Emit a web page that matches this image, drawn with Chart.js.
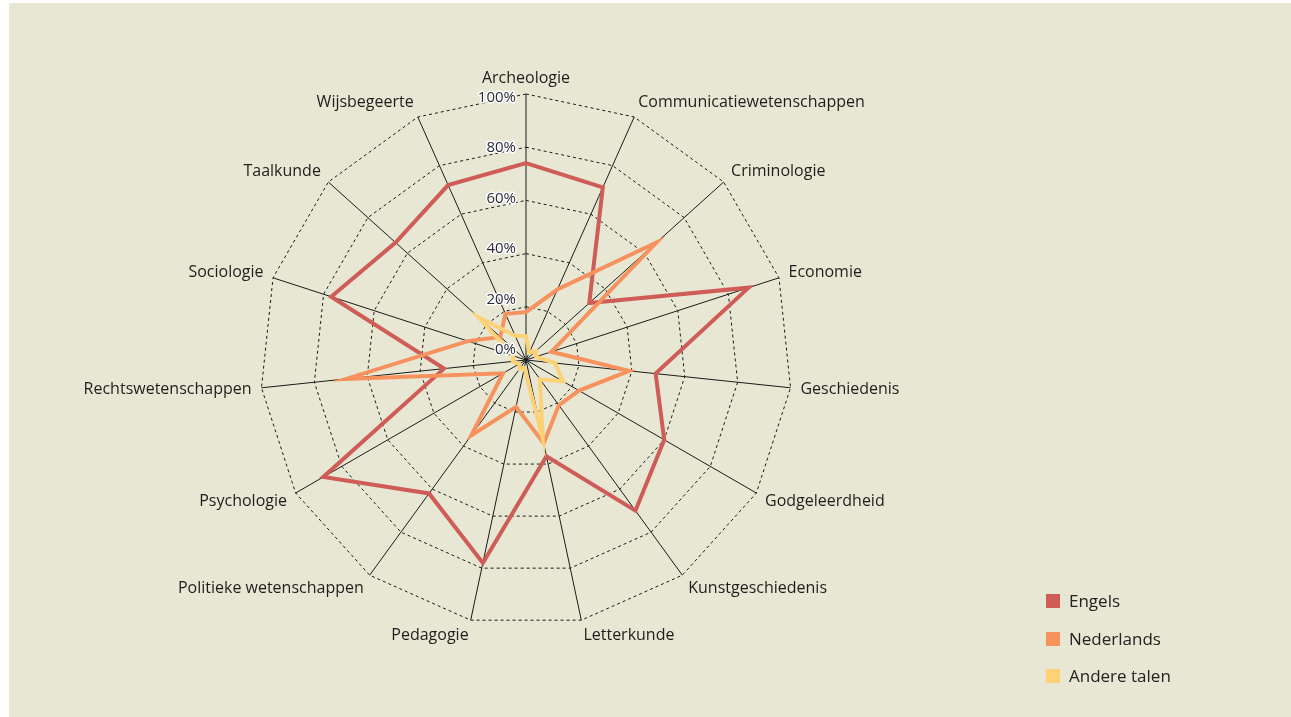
<!DOCTYPE html>
<html>
<head>
<meta charset="utf-8">
<script src="https://cdn.jsdelivr.net/npm/chart.js@4"></script>
<style>
  html, body { margin: 0; padding: 0; background: #fff; }
  #bg { position: absolute; left: 9px; top: 3px; right: 0; bottom: 0; background: #e7e7d3; }
  #wrap { position: absolute; left: 0; top: 0; width: 1291px; height: 717px; }
  #legend { position: absolute; left: 1046px; top: 582px; font: 17px "Open Sans", sans-serif; color: #222; }
  #legend div { height: 37.5px; line-height: 37.5px; white-space: nowrap; }
  #legend span { display: inline-block; width: 14px; height: 14px; margin-right: 9px; vertical-align: -1px; }
</style>
</head>
<body>
<div id="bg"></div>
<div id="wrap"><canvas id="mycanvas"></canvas></div>
<div id="legend"></div>
<script>
var vakken = ['Archeologie', 'Communicatiewetenschappen', 'Criminologie', 'Economie', 'Geschiedenis',
  'Godgeleerdheid', 'Kunstgeschiedenis', 'Letterkunde', 'Pedagogie', 'Politieke wetenschappen',
  'Psychologie', 'Rechtswetenschappen', 'Sociologie', 'Taalkunde', 'Wijsbegeerte'];

var engels     = [74, 71, 32, 88, 49, 60, 70, 37, 78, 62, 88, 31, 77, 66, 72];
var nederlands = [18, 29, 66, 10, 39, 23, 21, 32, 18, 35, 10, 68, 23, 13, 19];
var andere     = [9, 3, 5, 4, 11, 16, 9, 30, 3, 4, 3, 5, 5, 24, 10];

var reeksen = ['Engels', 'Nederlands', 'Andere talen'];
var kleuren = ['#cf5c57', '#f7925f', '#fdd277'];

var CX = 526, CY = 360, RADIUS = 266;

// tick labels left of the top spoke with a white halo, category names round the web
var labelsPlugin = {
	id: 'labelsPlugin',
	afterDatasetsDraw: function(chart) {
		var s = chart.scales.r, ctx = chart.ctx;
		ctx.save();
		ctx.font = '15px "Open Sans"';
		ctx.textAlign = 'right';
		ctx.textBaseline = 'middle';
		ctx.lineJoin = 'round';
		ctx.lineWidth = 3;
		ctx.strokeStyle = '#ffffff';
		ctx.fillStyle = '#2b2b3a';
		s.ticks.forEach(function(t) {
			var d = s.getDistanceFromCenterForValue(t.value);
			var y = s.yCenter - 10 - d * 0.95;
			var txt = t.value + '%';
			ctx.strokeText(txt, s.xCenter - 10, y);
			ctx.fillText(txt, s.xCenter - 10, y);
		});

		ctx.font = '16px "Open Sans"';
		ctx.fillStyle = '#1e1e1e';
		for (var i = 0; i < vakken.length; i++) {
			var a = s.getIndexAngle(i);
			var sin = Math.sin(a), cos = Math.cos(a);
			var pt = s.getPointPosition(i, s.drawingArea);
			var x = pt.x + sin * 10;
			var y = pt.y - cos * 16;
			ctx.textAlign = Math.abs(sin) < 0.05 ? 'center' : (sin > 0 ? 'left' : 'right');
			ctx.fillText(vakken[i], x, y);
		}
		ctx.restore();
	}
};

var series = [engels, nederlands, andere];
var datasets = [];
for (var i in series) {
	datasets.push({
		label: reeksen[i],
		data: series[i],
		borderColor: kleuren[i],
		backgroundColor: kleuren[i],
		borderWidth: 4,
		fill: false,
		pointRadius: 0,
		pointHoverRadius: 0,
		order: 3 - i
	});
}

var ctx = document.getElementById('mycanvas');
var radar = new Chart(ctx, {
	type: 'radar',
	data: { labels: vakken, datasets: datasets },
	plugins: [labelsPlugin],
	options: {
		responsive: true,
		maintainAspectRatio: false,
		animation: false,
		layout: { padding: { left: 0, right: 239, top: 92, bottom: 93 } },
		plugins: { legend: { display: false }, tooltip: { enabled: false } },
		elements: { line: { tension: 0, borderJoinStyle: 'miter' } },
		scales: {
			r: {
				min: 0,
				max: 100,
				ticks: { stepSize: 20, display: false },
				grid: { color: '#1a1a1a', lineWidth: 1 },
				border: { dash: [3, 3] },
				angleLines: { color: '#1a1a1a', lineWidth: 1 },
				pointLabels: { display: false }
			}
		}
	}
});

// nudge the layout so the web lands where it is in the picture
for (var k = 0; k < 6; k++) {
	var s = radar.scales.r;
	var p = radar.options.layout.padding;
	var dr = s.drawingArea - RADIUS;
	p.top += dr; p.bottom += dr; p.left += dr; p.right += dr;
	p.left += CX - s.xCenter; p.right -= CX - s.xCenter;
	p.top += CY - s.yCenter; p.bottom -= CY - s.yCenter;
	radar.update('none');
}

var legend = document.getElementById('legend');
for (var j in reeksen) {
	legend.innerHTML += '<div><span style="background:' + kleuren[j] + '"></span>' + reeksen[j] + '</div>';
}
</script>
</body>
</html>
